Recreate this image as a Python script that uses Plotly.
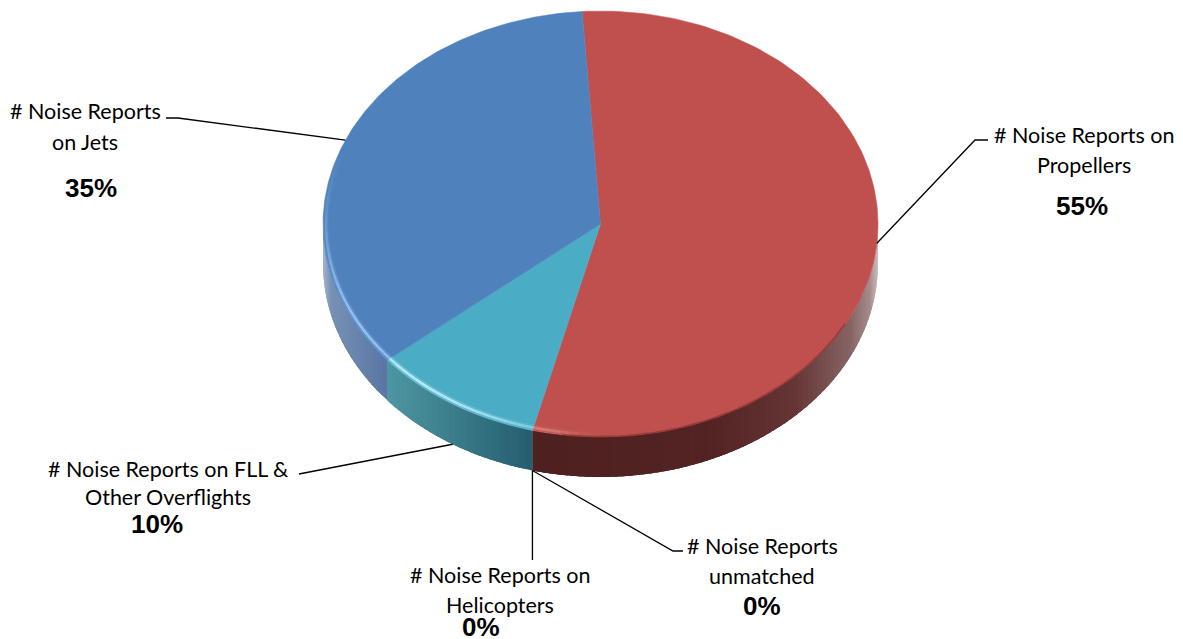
import numpy as np
import plotly.graph_objects as go

# ---------- data ----------
labels = ["# Noise Reports on Propellers", "# Noise Reports unmatched",
          "# Noise Reports on Helicopters", "# Noise Reports on FLL & Other Overflights",
          "# Noise Reports on Jets"]
values = [55, 0, 0, 10, 35]
label_lines = [["# Noise Reports on", "Propellers"], ["# Noise Reports", "unmatched"],
               ["# Noise Reports on", "Helicopters"], ["# Noise Reports on FLL &", "Other Overflights"],
               ["# Noise Reports", "on Jets"]]

# ---------- style / geometry ----------
W, H = 1183, 639
CX, CY, RX, RY, DEPTH = 600.5, 224, 277.5, 213, 40
START = -3.8
top_colors = ["#C0504D", "#C0504D", "#C0504D", "#4BACC6", "#4F81BD"]
# wall colour stops as (sin(angle), rgb)
wall_stops = {
    0: ([-0.3, 0.4, 0.7, 0.9, 0.97, 1.0],
        [(78, 32, 32), (84, 36, 36), (102, 54, 54), (135, 100, 100), (165, 140, 140), (205, 190, 190)]),
    3: ([-0.8, -0.25], [(80, 155, 165), (38, 94, 112)]),
    4: ([-1.0, -0.97, -0.77], [(165, 180, 205), (120, 145, 180), (88, 118, 165)]),
}
# rim highlight per slice: colour, angle of peak, half width, strength
rim = {0: ("#F0A8A0", 192, 6, 0.5), 3: ("#C4F4FF", 222, 30, 1.0), 4: ("#A4D0FC", 240, 28, 0.9)}
# text placement: (centre x, first line y, second line y, percent x, percent y)
text_pos = [(1084, 135, 165, 1082, 206), (762, 546, 576, 762, 606), (500, 575, 605, 481, 627),
            (168, 469, 497, 157, 524), (85, 111, 142, 91, 188)]
# leader elbows, drawn from the pie edge to the label (None = same x as the anchor)
elbows = [[(975, 140), (988, 140)], [(673, 551), (683, 551)], [(None, 560)],
          [(311, 472), (299, 474)], [(178, 118), (166, 118)]]
on_wall = [False, True, True, True, False]


def pt(t, inset=0.0, dz=0.0):
    r = np.radians(t)
    return CX + (RX - inset) * np.sin(r), CY - (RY - inset) * np.cos(r) + dz


fig = go.Figure()


def add_poly(xs, ys, color, lw=0.0):
    fig.add_trace(go.Scatter(x=xs, y=ys, mode="lines", fill="toself", fillcolor=color,
                             line=dict(color=color, width=lw), hoverinfo="skip", showlegend=False))


bounds = START + np.concatenate([[0], np.cumsum(values)]) * 3.6

# side walls (segments overlap so no seams show)
for i, v in enumerate(values):
    if v == 0:
        continue
    a, b = max(bounds[i], 90), min(bounds[i + 1], 270)
    if b <= a:
        continue
    edges = np.linspace(a, b, int((b - a) / 1.5) + 2)
    sx, cols = wall_stops[i]
    for t0, t1 in zip(edges[:-1], edges[1:]):
        ts = np.linspace(t0, min(t1 + 2.5, b), 6)
        x0, y0 = pt(ts)
        x1, y1 = pt(ts[::-1], dz=DEPTH)
        s = np.sin(np.radians((t0 + t1) / 2))
        c = [int(np.interp(s, sx, [k[n] for k in cols])) for n in range(3)]
        add_poly(np.r_[x0, x1], np.r_[y0, y1], f"rgb({c[0]},{c[1]},{c[2]})")

# top faces
for i, v in enumerate(values):
    if v == 0:
        continue
    ts = np.linspace(bounds[i], bounds[i + 1], 160)
    x, y = pt(ts)
    add_poly(np.r_[CX, x, CX], np.r_[CY, y, CY], top_colors[i], 0.5)

# soft dark rim on the right of the red slice
ts = np.linspace(118, 188, 70)
x, y = pt(ts, inset=0.5)
fig.add_trace(go.Scatter(x=x, y=y, mode="lines", line=dict(color="rgba(120,40,38,0.55)", width=1.5),
                         hoverinfo="skip", showlegend=False))

# bevel highlight along the near edge
for i, (col, peak, hw, strength) in rim.items():
    a, b = max(bounds[i], 175), min(bounds[i + 1], 288)
    edges = np.linspace(a, b, int((b - a) / 2) + 2)
    for t0, t1 in zip(edges[:-1], edges[1:]):
        m = (t0 + t1) / 2
        o = strength * float(np.exp(-((m - peak) / hw) ** 2))
        ts = np.linspace(t0, t1, 3)
        x, y = pt(ts, inset=3)
        for width, alpha in ((6, 0.22), (2.5, 0.85)):
            fig.add_trace(go.Scatter(x=x, y=y, mode="lines", opacity=o * alpha,
                                     line=dict(color=col, width=width),
                                     hoverinfo="skip", showlegend=False))

# leaders and labels
for i in range(len(values)):
    mid = (bounds[i] + bounds[i + 1]) / 2
    ax, ay = pt(mid, dz=DEPTH if on_wall[i] else 0)
    xs = [ax] + [ax if p[0] is None else p[0] for p in elbows[i]]
    ys = [ay] + [p[1] for p in elbows[i]]
    fig.add_trace(go.Scatter(x=xs, y=ys, mode="lines", line=dict(color="black", width=1.3),
                             hoverinfo="skip", showlegend=False))
    cx, y1, y2, px, py = text_pos[i]
    for line, yy in zip(label_lines[i], (y1, y2)):
        fig.add_annotation(x=cx, y=yy, text=line, showarrow=False, xanchor="center", yanchor="middle",
                           font=dict(family="Lato", size=21.5, color="black"))
    fig.add_annotation(x=px, y=py, text=f"{values[i]}%", showarrow=False, xanchor="center", yanchor="middle",
                       font=dict(family="Liberation Sans", size=26, color="black", weight="bold"))

fig.update_layout(width=W, height=H, margin=dict(l=0, r=0, t=0, b=0), showlegend=False,
                  paper_bgcolor="white", plot_bgcolor="white",
                  xaxis=dict(range=[0, W], visible=False, fixedrange=True),
                  yaxis=dict(range=[H, 0], visible=False, fixedrange=True))
fig.write_html("out.html", config=dict(displayModeBar=False),
               post_script="document.body.style.margin='0';document.body.style.overflow='hidden';")
